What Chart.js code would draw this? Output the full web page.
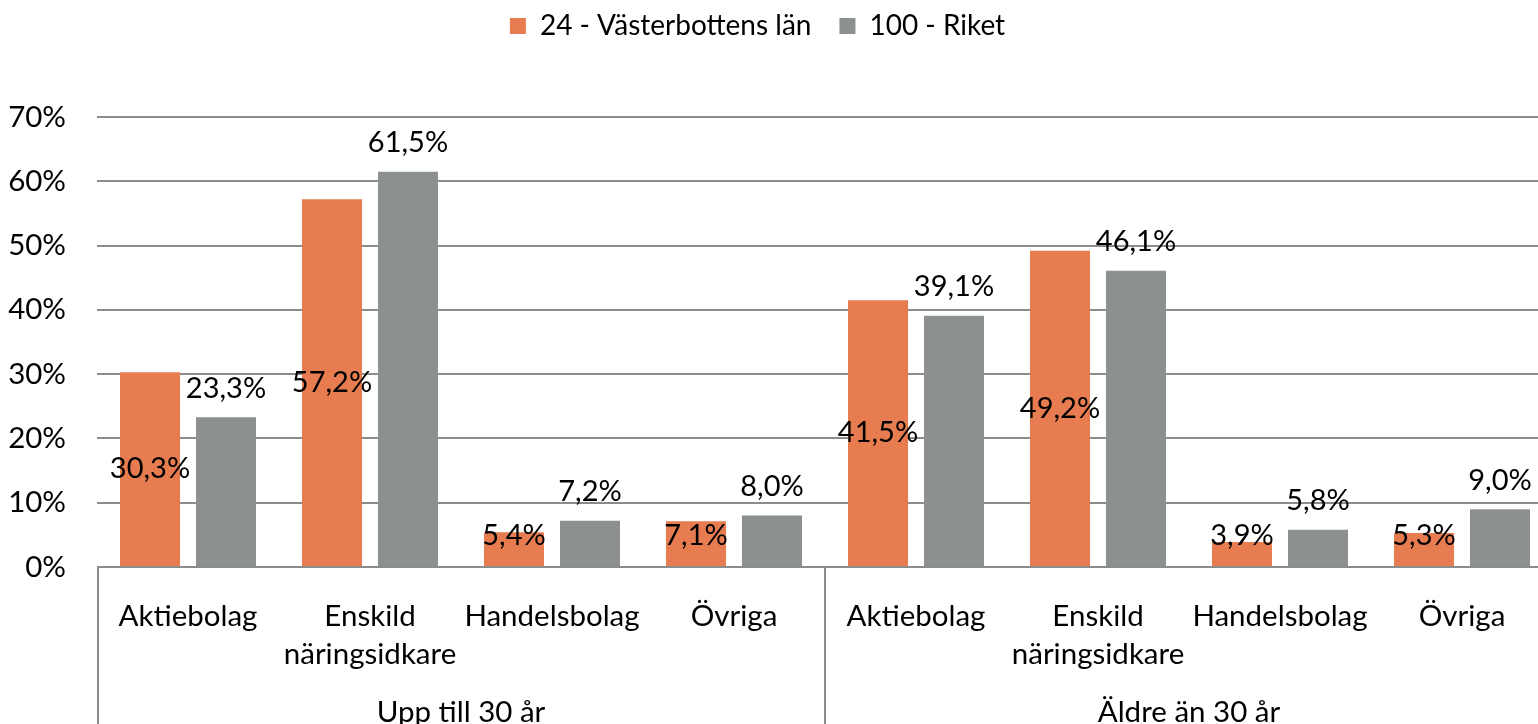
<!DOCTYPE html>
<html>
<head>
<meta charset="utf-8">
<script src="https://cdn.jsdelivr.net/npm/chart.js@4.4.1/dist/chart.umd.min.js"></script>
<style>
  html, body { margin: 0; padding: 0; background: #fff; overflow: hidden; }
  #wrap { width: 1553px; height: 740px; }
</style>
</head>
<body>
<div id="wrap"><canvas id="foretagChart"></canvas></div>
<script>
const categories = ['Aktiebolag', ['Enskild', 'näringsidkare'], 'Handelsbolag', 'Övriga',
                    'Aktiebolag', ['Enskild', 'näringsidkare'], 'Handelsbolag', 'Övriga'];
const groups = ['Upp till 30 år', 'Äldre än 30 år'];
const vasterbotten = [30.3, 57.2, 5.4, 7.1, 41.5, 49.2, 3.9, 5.3];
const riket = [23.3, 61.5, 7.2, 8.0, 39.1, 46.1, 5.8, 9.0];
const yTicks = [0, 10, 20, 30, 40, 50, 60, 70];

const FONT = { family: 'Lato', size: 29.5, lineHeight: 1.3 };
const LEGEND_FONT = { family: 'Lato', size: 28 };
const LINE = '#8c8c8c';

const fmt = v => v.toFixed(1).replace('.', ',') + '%';

// legend gets a fixed height so the plot starts at the 70% line
const legendSpace = {
    id: 'legendSpace',
    beforeInit(chart) {
        const fit = chart.legend.fit;
        chart.legend.fit = function () {
            fit.bind(chart.legend)();
            this.height = 117;
        };
    },
    afterLayout(chart) {
        chart.legend.right -= 38;
        chart.legend.top -= 16;
    }
};

// value labels: first series centred in the bar, second above the bar
const barLabels = {
    id: 'barLabels',
    afterDatasetsDraw(chart) {
        const ctx = chart.ctx;
        ctx.save();
        ctx.font = '29px Lato';
        ctx.fillStyle = '#000';
        ctx.textAlign = 'center';
        ctx.textBaseline = 'middle';
        chart.data.datasets.forEach((ds, i) => {
            chart.getDatasetMeta(i).data.forEach((bar, j) => {
                let y;
                if (i === 0) {
                    y = Math.min((bar.y + bar.base) / 2, bar.base - 30);
                } else {
                    y = bar.y - 29;
                }
                ctx.fillText(fmt(ds.data[j]), bar.x, y);
            });
        });
        ctx.restore();
    }
};

// vertical separators between the two age groups below the axis
const groupLines = {
    id: 'groupLines',
    afterDraw(chart) {
        const g = chart.scales.group;
        const ctx = chart.ctx;
        const mid = (g.getPixelForValue(0) + g.getPixelForValue(1)) / 2;
        ctx.save();
        ctx.strokeStyle = LINE;
        ctx.lineWidth = 2;
        [g.left + 1, mid, g.right - 1].forEach(x => {
            ctx.beginPath();
            ctx.moveTo(x, chart.chartArea.bottom);
            ctx.lineTo(x, chart.height);
            ctx.stroke();
        });
        ctx.restore();
    }
};

const ctx = document.getElementById('foretagChart').getContext('2d');
new Chart(ctx, {
    type: 'bar',
    data: {
        labels: categories,
        datasets: [
            {
                label: '24 - Västerbottens län',
                data: vasterbotten,
                backgroundColor: '#e67c50',
                barPercentage: 0.79,
                categoryPercentage: 0.835
            },
            {
                label: '100 - Riket',
                data: riket,
                backgroundColor: '#8c908e',
                barPercentage: 0.79,
                categoryPercentage: 0.835
            }
        ]
    },
    options: {
        responsive: true,
        maintainAspectRatio: false,
        animation: false,
        layout: { padding: 0 },
        plugins: {
            legend: {
                position: 'top',
                labels: {
                    font: LEGEND_FONT,
                    color: '#000',
                    boxWidth: 16,
                    boxHeight: 16,
                    padding: 28
                }
            },
            tooltip: { enabled: false }
        },
        scales: {
            x: {
                grid: { display: false },
                border: { display: false },
                ticks: {
                    font: FONT,
                    color: '#000',
                    padding: 22,
                    maxRotation: 0,
                    autoSkip: false
                },
                afterFit(scale) { scale.height = 118; }
            },
            group: {
                type: 'category',
                labels: groups,
                position: 'bottom',
                weight: 1,
                grid: { display: false },
                border: { display: false },
                ticks: {
                    font: FONT,
                    color: '#000',
                    padding: 0,
                    maxRotation: 0,
                    autoSkip: false
                },
                afterFit(scale) { scale.height = 55; }
            },
            y: {
                min: yTicks[0],
                max: yTicks[yTicks.length - 1],
                grid: { color: LINE, lineWidth: 2, drawTicks: false },
                border: { display: false },
                ticks: {
                    stepSize: 10,
                    font: FONT,
                    color: '#000',
                    padding: 31,
                    callback: v => v + '%'
                },
                afterFit(scale) { scale.width = 97; }
            }
        }
    },
    plugins: [legendSpace, barLabels, groupLines]
});
</script>
</body>
</html>
